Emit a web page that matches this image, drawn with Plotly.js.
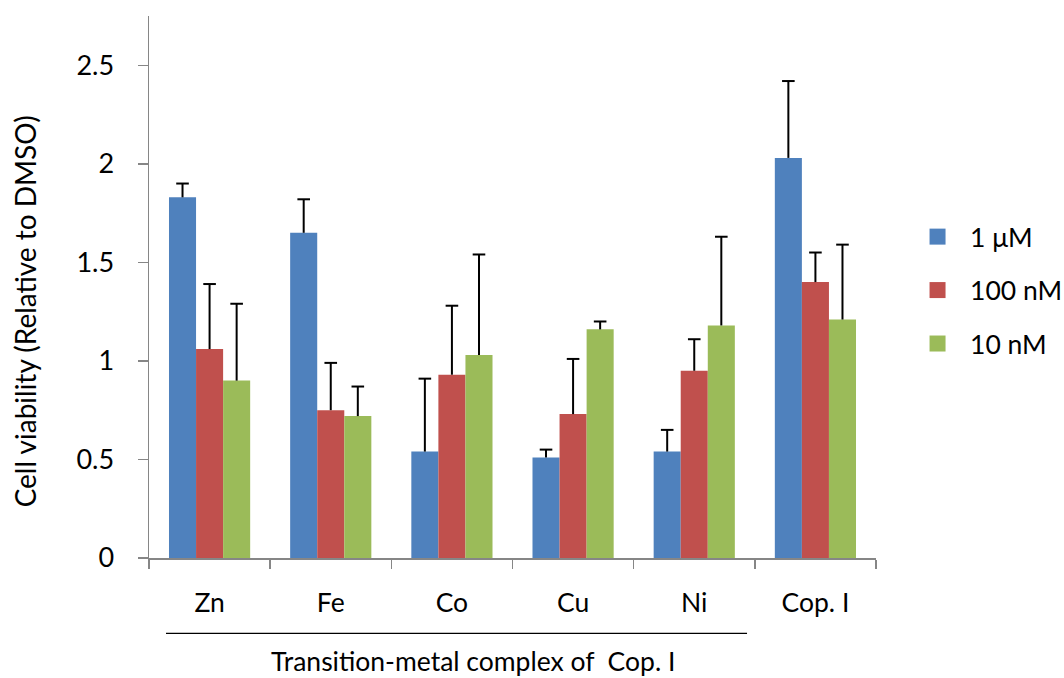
<!DOCTYPE html>
<html>
<head>
<meta charset="utf-8">
<script src="https://cdn.plot.ly/plotly-3.0.1.min.js"></script>
<style>html,body{margin:0;padding:0;background:#fff}#chart{width:1064px;height:678px}</style>
</head>
<body>
<div id="chart"></div>
<script>
const categories = ["Zn", "Fe", "Co", "Cu", "Ni", "Cop. I"];
const seriesNames = ["1 \u03bcM", "100 nM", "10 nM"];
const val1uM   = [1.83, 1.65, 0.54, 0.51, 0.54, 2.03];
const err1uM   = [0.07, 0.17, 0.37, 0.04, 0.11, 0.39];
const val100nM = [1.06, 0.75, 0.93, 0.73, 0.95, 1.40];
const err100nM = [0.33, 0.24, 0.35, 0.28, 0.16, 0.15];
const val10nM  = [0.90, 0.72, 1.03, 1.16, 1.18, 1.21];
const err10nM  = [0.39, 0.15, 0.51, 0.04, 0.45, 0.38];
const yTickVals = [0, 0.5, 1, 1.5, 2, 2.5];
const yTickText = ["0", "0.5", "1", "1.5", "2", "2.5"];
const yTitle = "Cell viability (Relative to DMSO)";
const xTitle = "Transition-metal complex of&nbsp; Cop. I";
const colors = ["#4F81BD", "#C0504D", "#9BBB59"];

const FONT = "Lato, 'Open Sans', sans-serif";
const vals = [val1uM, val100nM, val10nM];
const errs = [err1uM, err100nM, err10nM];
const groups = ["s0", "s1", "s2"];

const traces = [];
// bars with the vertical part of the (upper) error bars
for (let i = 0; i < 3; i++) {
  traces.push({
    type: "bar", x: categories, y: vals[i], name: seriesNames[i],
    offsetgroup: groups[i], alignmentgroup: "a",
    marker: {color: colors[i]}, showlegend: false,
    error_y: {type: "data", array: errs[i], arrayminus: errs[i].map(() => 0), symmetric: false,
              color: "#000", thickness: 2, width: 0}
  });
}
// top caps of the error bars, grouped like the bars
for (let i = 0; i < 3; i++) {
  traces.push({
    type: "scatter", mode: "markers", x: categories,
    y: vals[i].map((v, k) => v + errs[i][k]),
    offsetgroup: groups[i], alignmentgroup: "a",
    marker: {symbol: "line-ew-open", size: 9, color: "#000", line: {color: "#000", width: 2}},
    showlegend: false, hoverinfo: "skip"
  });
}
// legend entries
for (let i = 0; i < 3; i++) {
  traces.push({
    type: "scatter", mode: "markers", x: [null], y: [null], name: seriesNames[i],
    legendgroup: "g" + i, offsetgroup: groups[i], alignmentgroup: "a",
    marker: {symbol: "square", size: 16, color: colors[i]}
  });
}

const layout = {
  width: 1064, height: 678,
  margin: {l: 149, r: 188, t: 16, b: 120},
  paper_bgcolor: "#fff", plot_bgcolor: "#fff",
  font: {family: FONT, color: "#000", size: 26},
  barmode: "group", bargap: 0.33, bargroupgap: 0,
  scattermode: "group", scattergap: 0.33,
  xaxis: {
    type: "category", showline: true, linecolor: "#868686", linewidth: 1.5,
    ticks: "outside", tickson: "boundaries", ticklen: 9, tickcolor: "#868686", tickwidth: 1.5,
    tickfont: {family: FONT, size: 26.5}, ticklabelstandoff: 21,
    showgrid: false, zeroline: false, fixedrange: true
  },
  yaxis: {
    range: [0, 2.75], showline: true, linecolor: "#868686", linewidth: 1.5,
    ticks: "outside", ticklen: 10, tickcolor: "#868686", tickwidth: 1.5,
    tickvals: yTickVals, ticktext: yTickText, tickfont: {family: FONT, size: 27},
    ticklabelstandoff: 18,
    showgrid: false, zeroline: false, fixedrange: true
  },
  legend: {
    xref: "container", yref: "container", x: 0.8506, y: 0.686, xanchor: "left", yanchor: "top",
    font: {family: FONT, size: 26.5}, itemwidth: 55, itemsizing: "trace",
    traceorder: "grouped", tracegroupgap: 16, bgcolor: "rgba(0,0,0,0)"
  },
  shapes: [
    {type: "line", xref: "paper", yref: "paper", x0: 0.0234, x1: 0.8226, y0: -0.139, y1: -0.139,
     line: {color: "#000", width: 1.2}}
  ],
  annotations: [
    {xref: "paper", yref: "paper", x: 0.446, y: -0.1895, xanchor: "center", yanchor: "middle",
     text: xTitle, showarrow: false,
     font: {family: FONT, size: 26.5, color: "#000"}},
    {xref: "paper", yref: "paper", x: -0.1706, y: 0.455, xanchor: "center", yanchor: "middle",
     textangle: -90, text: yTitle, showarrow: false,
     font: {family: FONT, size: 28, color: "#000"}}
  ]
};

Plotly.newPlot("chart", traces, layout, {displayModeBar: false, staticPlot: true});
</script>
</body>
</html>
